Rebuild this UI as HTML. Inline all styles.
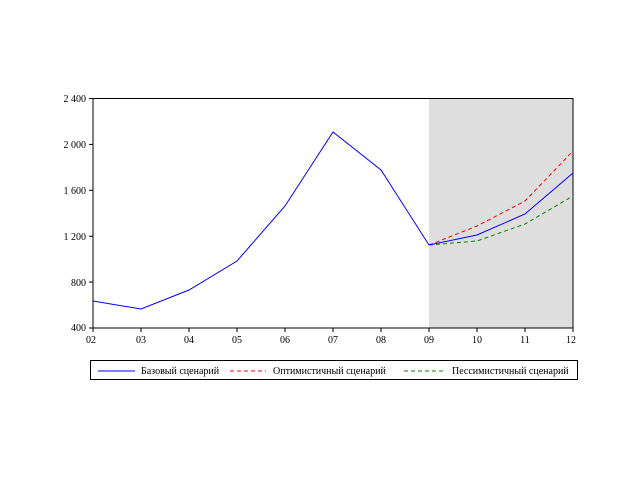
<!DOCTYPE html>
<html><head><meta charset="utf-8"><style>body{margin:0;background:#fff}</style></head><body>
<svg width="640" height="480" xmlns="http://www.w3.org/2000/svg" font-family="Liberation Serif, serif" font-size="10">
<rect x="429" y="98.5" width="144" height="229.5" fill="#dedede"/>
<rect x="93" y="98.5" width="480" height="229.5" fill="none" stroke="#000" stroke-width="1"/>
<g stroke="#000">
<line x1="89" y1="98.5" x2="93" y2="98.5"/><line x1="89" y1="144.4" x2="93" y2="144.4"/><line x1="89" y1="190.3" x2="93" y2="190.3"/><line x1="89" y1="236.2" x2="93" y2="236.2"/><line x1="89" y1="282.1" x2="93" y2="282.1"/><line x1="89" y1="328" x2="93" y2="328"/>
<line x1="93" y1="328" x2="93" y2="332"/><line x1="141" y1="328" x2="141" y2="332"/><line x1="189" y1="328" x2="189" y2="332"/><line x1="237" y1="328" x2="237" y2="332"/><line x1="285" y1="328" x2="285" y2="332"/><line x1="333" y1="328" x2="333" y2="332"/><line x1="381" y1="328" x2="381" y2="332"/><line x1="429" y1="328" x2="429" y2="332"/><line x1="477" y1="328" x2="477" y2="332"/><line x1="525" y1="328" x2="525" y2="332"/><line x1="573" y1="328" x2="573" y2="332"/>
</g>
<g text-anchor="end">
<text x="86" y="102">2 400</text><text x="86" y="148">2 000</text><text x="86" y="194">1 600</text><text x="86" y="240">1 200</text><text x="86" y="286">800</text><text x="86" y="331">400</text>
</g>
<g text-anchor="middle">
<text x="91" y="343">02</text><text x="141" y="343">03</text><text x="189" y="343">04</text><text x="237" y="343">05</text><text x="285" y="343">06</text><text x="333" y="343">07</text><text x="381" y="343">08</text><text x="429" y="343">09</text><text x="477" y="343">10</text><text x="525" y="343">11</text><text x="571" y="343">12</text>
</g>
<polyline fill="none" stroke="#f00" stroke-dasharray="4,3" points="429,245 477,226 525,201 573,151"/>
<polyline fill="none" stroke="#080" stroke-dasharray="4,3" points="429,245 477,241 525,224 573,196"/>
<polyline fill="none" stroke="#00f" points="93,301 141,309 189,290 237,261 285,206 333,132 381,170 429,245 477,235 525,214 573,173"/>
<rect x="90.5" y="360.5" width="487" height="19" fill="none" stroke="#000"/>
<line x1="98" y1="371" x2="135" y2="371" stroke="#00f"/>
<text x="141" y="374">Базовый сценарий</text>
<line x1="230" y1="371" x2="266" y2="371" stroke="#f00" stroke-dasharray="4,3"/>
<text x="273" y="374">Оптимистичный сценарий</text>
<line x1="404" y1="371" x2="443" y2="371" stroke="#080" stroke-dasharray="4,3"/>
<text x="452" y="374">Пессимистичный сценарий</text>
</svg>
</body></html>
